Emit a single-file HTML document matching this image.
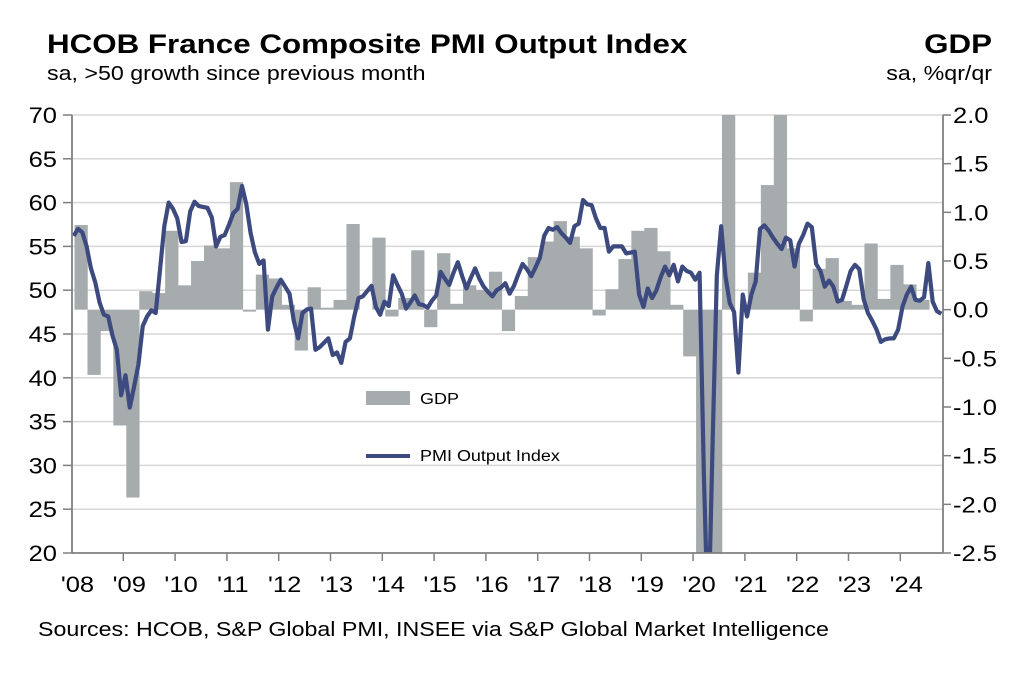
<!DOCTYPE html>
<html><head><meta charset="utf-8">
<style>
html,body{margin:0;padding:0;background:#fff;overflow:hidden;width:1035px;height:677px;}
svg{display:block;font-family:"Liberation Sans",Arial,sans-serif;}
</style></head>
<body>
<svg id="chart" width="1035" height="677" viewBox="0 0 1035 677">
<text class="st" x="47" y="53" font-size="27" font-weight="bold" fill="#000">HCOB France Composite  PMI Output Index</text>
<text class="st" x="47" y="80" font-size="20" fill="#000">sa, &gt;50 growth since previous month</text>
<text class="st" x="992" y="53" font-size="27" font-weight="bold" text-anchor="end">GDP</text>
<text class="st" x="992" y="80" font-size="20" text-anchor="end">sa, %qr/qr</text>
<text class="st" x="38" y="636" font-size="20">Sources: HCOB, S&amp;P Global PMI, INSEE via S&amp;P Global Market Intelligence</text>
<defs><clipPath id="plotclip"><rect x="72" y="115" width="871" height="438"/></clipPath></defs>
<g id="grid"></g>
<g id="bars" clip-path="url(#plotclip)"></g>
<g id="line" clip-path="url(#plotclip)"></g>
<g id="axes"></g>
<g>
<rect x="366" y="391" width="44" height="14" fill="#a6abad"/>
<text class="st" x="420" y="404" font-size="15.5">GDP</text>
<line x1="366" y1="456" x2="410" y2="456" stroke="#3d4a7f" stroke-width="4"/>
<text class="st" x="420" y="461" font-size="15.5">PMI Output Index</text>
</g>
</svg>
<script>
const leftTicks=[20,25,30,35,40,45,50,55,60,65,70];
const rightTicks=["2.0","1.5","1.0","0.5","0.0","-0.5","-1.0","-1.5","-2.0","-2.5"];
const yearLabels=["'08","'09","'10","'11","'12","'13","'14","'15","'16","'17","'18","'19","'20","'21","'22","'23","'24"];
const gdp=[0.87,-0.67,-0.22,-1.19,
-1.93,0.19,0.17,0.81,
0.25,0.5,0.66,0.63,
1.31,-0.02,0.36,0.32,
0.05,-0.42,0.23,0.02,
0.1,0.88,0.0,0.74,
-0.07,0.12,0.61,-0.18,
0.58,0.06,0.25,0.2,
0.39,-0.22,0.14,0.54,
0.7,0.91,0.75,0.63,
-0.06,0.21,0.52,0.81,
0.84,0.6,0.05,-0.48,
-5.6,-13.5,18.5,0.0,
0.38,1.28,3.0,0.63,
-0.12,0.42,0.53,0.09,
0.05,0.68,0.11,0.46,
0.26,0.1];
const pmi=[56.2,57.0,56.6,55.0,52.5,50.9,48.6,47.2,47.0,44.8,43.2,38.0,
40.3,36.6,39.0,41.5,45.9,47.0,47.7,47.4,52.3,57.3,60.0,59.3,
58.2,55.5,55.6,59.0,60.1,59.6,59.5,59.4,58.3,55.0,56.1,56.3,
57.5,58.8,59.3,61.9,59.8,56.5,54.3,53.0,53.4,45.5,49.3,50.3,
51.2,50.4,49.6,46.5,44.5,47.4,47.8,47.9,43.2,43.5,44.0,44.5,
42.6,42.9,41.7,44.1,44.5,47.0,49.1,49.3,49.9,50.5,48.1,47.2,
48.7,48.2,51.7,50.6,49.6,47.9,48.6,49.4,48.4,48.3,48.0,48.8,
49.4,52.1,51.3,50.6,52.0,53.2,51.6,50.2,51.4,52.5,51.3,50.4,
49.8,49.3,50.0,50.3,50.8,49.6,50.5,51.8,53.0,52.4,51.6,52.6,
53.7,56.2,57.1,56.9,57.2,56.5,56.0,55.4,57.3,57.6,60.3,59.8,
59.7,58.2,57.1,57.1,54.4,55.0,55.0,55.0,54.2,54.3,54.4,49.5,
48.1,50.2,49.1,50.0,51.5,52.7,51.7,52.9,51.0,52.7,52.2,52.0,
51.2,52.0,28.9,11.1,32.1,51.7,57.3,51.6,48.5,47.5,40.6,49.5,
47.0,49.5,51.0,57.0,57.4,56.8,56.0,55.3,54.7,56.0,55.7,52.7,
55.3,56.3,57.6,57.2,53.0,52.2,50.4,51.1,50.4,48.7,48.9,50.5,
52.2,52.9,52.4,49.0,47.4,46.5,45.5,44.1,44.4,44.5,44.5,45.5,
48.1,49.5,50.4,48.9,48.8,49.2,53.1,48.7,47.6,47.3];

const NS="http://www.w3.org/2000/svg";
const X0=71.5, YEARW=51.8, PL=72, PR=943, PT=115, PB=553;
const yL=v=>PT+(70-v)*(PB-PT)/50;
const yR=v=>PT+(2-v)*(PB-PT)/4.5;
const xMonth=i=>X0+(i+0.5)*YEARW/12;
const xQuarter=i=>X0+i*YEARW/4+3;
function mk(tag,attrs,parent){const e=document.createElementNS(NS,tag);for(const k in attrs)e.setAttribute(k,attrs[k]);parent.appendChild(e);return e;}
const grid=document.getElementById('grid'),axes=document.getElementById('axes');
leftTicks.forEach(t=>{
  const y=yL(t);
  if(t!==20){const g=mk('line',{x1:PL,x2:PR,y1:y,y2:y,stroke:'#d6d6d6','stroke-width':1.5},grid);
  
  }
  const tk=mk('line',{x1:PL-9,x2:PL,y1:y,y2:y,stroke:'#7f7f7f','stroke-width':1.5},axes);
  
  
  const tx=mk('text',{x:57,y:y+8,'font-size':22,'text-anchor':'end','class':'st'},axes);
  
  
  tx.textContent=t;
});
rightTicks.forEach(t=>{
  const y=yR(parseFloat(t));
  const tk=mk('line',{x1:PR,x2:PR+8,y1:y,y2:y,stroke:'#7f7f7f','stroke-width':1.5},axes);
  
  
  const tx=mk('text',{x:953,y:y+8,'font-size':22,'class':'st'},axes);
  
  
  tx.textContent=t;
});
yearLabels.forEach((l,i)=>{
  const x=X0+i*YEARW;
  if(i>0){const tk=mk('line',{x1:x,x2:x,y1:PB,y2:PB+8,stroke:'#7f7f7f','stroke-width':1.5},axes);
  
  }
  const tx=mk('text',{x:x+6,y:592,'font-size':22,'text-anchor':'middle','class':'st'},axes);
  
  
  tx.textContent=l;
});
const al=mk('line',{x1:PL,x2:PL,y1:PT,y2:PB,stroke:'#7f7f7f','stroke-width':1.8},axes);


const ar=mk('line',{x1:PR,x2:PR,y1:PT,y2:PB,stroke:'#7f7f7f','stroke-width':1.8},axes);


const ab=mk('line',{x1:PL,x2:PR,y1:PB,y2:PB,stroke:'#7f7f7f','stroke-width':1.8},axes);


const bars=document.getElementById('bars');
gdp.forEach((v,i)=>{
  const y0=yR(0),y1=yR(v);
  const r=mk('rect',{x:xQuarter(i),width:YEARW/4+0.3,y:Math.min(y0,y1),height:Math.abs(y1-y0),fill:'#a6abad'},bars);
  
  
});
const d=pmi.map((v,i)=>(i?'L':'M')+xMonth(i).toFixed(2)+','+yL(v).toFixed(2)).join(' ');
const p=mk('path',{d:d,fill:'none',stroke:'#3d4a7f','stroke-width':4.2,'stroke-linejoin':'round'},document.getElementById('line'));


// horizontal stretch of text to match reference glyph widths
document.querySelectorAll('text.st').forEach(t=>{
  const w=t.getComputedTextLength();
  t.setAttribute('textLength',(w*1.16).toFixed(1));
  t.setAttribute('lengthAdjust','spacingAndGlyphs');
});
</script>
</body></html>
